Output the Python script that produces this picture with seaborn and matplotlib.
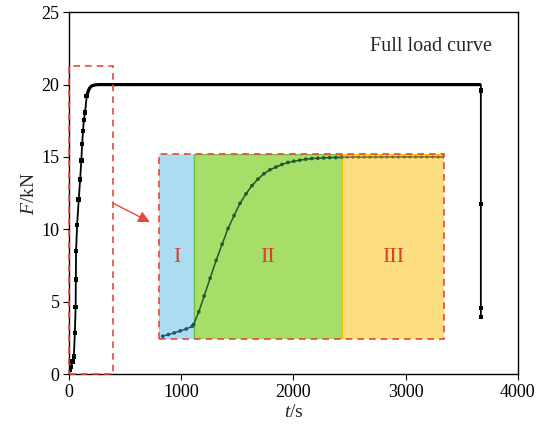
import matplotlib
matplotlib.use("Agg")
import matplotlib.pyplot as plt
import seaborn as sns
import pandas as pd
from matplotlib.patches import Rectangle

# ---------------- data ----------------
# full load curve (t in s, F in kN)
rise_t = [0, 9, 18, 30, 42, 51, 58, 60, 62, 71, 86, 98, 109, 116, 124, 131, 142, 157]
rise_F = [0.1, 0.28, 0.5, 0.85, 1.2, 2.85, 4.64, 6.55, 8.5, 10.3, 12.07, 13.45, 14.76, 15.9, 16.8, 17.56, 18.07, 19.2]
bend_t = [157, 170, 182, 200, 227, 260, 3670]
bend_F = [19.2, 19.55, 19.75, 19.9, 19.97, 20.0, 20.0]
drop_t = [3670, 3670, 3670, 3670]
drop_F = [19.6, 11.75, 4.56, 3.95]

# zoomed-in curve (inset), three stages
stage1_t = [4.7, 12.6, 21.0, 29.4, 37.8, 46.2, 48.1]
stage1_F = [0.36, 0.55, 0.73, 0.95, 1.16, 1.46, 1.64]
stage2_t = [48.1, 55.5, 63.0, 71.4, 79.8, 88.2, 96.6, 105.0, 113.4, 121.8, 130.2, 138.6, 147.0,
            155.4, 163.8, 172.2, 180.6, 189.0, 197.4, 205.8, 214.2, 222.6, 231.0, 239.4, 247.8, 256.2]
stage2_F = [1.64, 3.06, 4.80, 6.77, 8.73, 10.51, 12.26, 13.68, 15.03, 16.08, 16.99, 17.71, 18.30,
            18.73, 19.03, 19.32, 19.54, 19.68, 19.79, 19.90, 19.97, 20.01, 20.04, 20.08, 20.08, 20.12]
stage3_t = [256.2, 264, 272, 280, 288, 296, 304, 312, 320, 328, 336, 344, 352, 360, 368, 376, 384, 392, 399]
stage3_F = [20.12, 20.12, 20.13, 20.13, 20.13, 20.13, 20.14, 20.14, 20.14, 20.14, 20.14, 20.15,
            20.15, 20.15, 20.15, 20.15, 20.15, 20.15, 20.15]
stage_bounds = [0, 48.1, 256.2, 400]
stage_labels = ["I", "II", "III"]

x_ticks = [0, 1000, 2000, 3000, 4000]
y_ticks = [0, 5, 10, 15, 20, 25]

# ---------------- style ----------------
sns.set_style("ticks")
plt.rcParams["font.family"] = ["Liberation Serif", "DejaVu Serif"]
plt.rcParams["mathtext.fontset"] = "custom"
plt.rcParams["mathtext.it"] = "Liberation Serif:italic"
plt.rcParams["mathtext.rm"] = "Liberation Serif"

fig = plt.figure(figsize=(5.4, 4.36), dpi=100)
ax = fig.add_axes([0.128, 0.142, 0.831, 0.830])

main_t = rise_t + bend_t[1:] + drop_t
main_F = rise_F + bend_F[1:] + drop_F
df_main = pd.DataFrame({"t": main_t, "F": main_F})
sns.lineplot(data=df_main, x="t", y="F", sort=False, estimator=None, color="black", lw=1.3, ax=ax)
df_flat = pd.DataFrame({"t": bend_t, "F": bend_F})
sns.lineplot(data=df_flat, x="t", y="F", sort=False, estimator=None, color="black", lw=2.3,
             ax=ax, solid_capstyle="butt")
df_mk = pd.DataFrame({"t": rise_t[1:] + drop_t, "F": rise_F[1:] + drop_F})
sns.scatterplot(data=df_mk, x="t", y="F", marker="s", s=11, color="black", edgecolor="none", ax=ax, zorder=5)

ax.set_xlim(0, 4000)
ax.set_ylim(0, 25)
ax.set_xticks(x_ticks)
ax.set_yticks(y_ticks)
for s in ax.spines.values():
    s.set_visible(True)
    s.set_linewidth(1.0)
    s.set_color("black")
ax.tick_params(direction="out", length=4, width=0.8, labelsize=13, colors="black", pad=3)
ax.set_xlabel(r"$\it{t}$/s", fontsize=14, labelpad=2)
ax.set_ylabel(r"$\it{F}$/kN", fontsize=14, labelpad=2)

ax.text(3770, 22.6, "Full load curve", ha="right", va="center", fontsize=14.5)

red = "#e8473b"
ax.add_patch(Rectangle((0, 0), 390, 21.25, fill=False, edgecolor=red, lw=1.2,
                       ls=(0, (4, 3)), zorder=6, clip_on=False))
ax.annotate("", xy=(720, 10.5), xytext=(394, 11.8),
            arrowprops=dict(arrowstyle="-|>", color=red, lw=1.0, mutation_scale=17, shrinkA=0, shrinkB=0))

# ---------------- inset ----------------
x0, y0, x1, y1 = 804, 2.39, 3342, 15.22
ins = ax.inset_axes([x0, y0, x1 - x0, y1 - y0], transform=ax.transData)
ins.set_xlim(0, 400)
ins.set_ylim(0, 20.5)
ins.axis("off")
fills = ["#abdcf0", "#a6de69", "#fddf82"]
edges = ["#abdcf0", "#6cc03a", "#f7c100"]
for i in range(3):
    ins.add_patch(Rectangle((stage_bounds[i], 0), stage_bounds[i + 1] - stage_bounds[i], 20.5,
                            facecolor=fills[i], edgecolor=edges[i], lw=1.0, zorder=1))
    ins.text((stage_bounds[i] + stage_bounds[i + 1]) / 2, 9.1, stage_labels[i], color="#d9412f",
             fontsize=16, ha="center", va="center", zorder=4)

line_cols = ["#1f5678", "#1f5a2c", "#8b6a2a"]
for (tt, ff), c, ms in zip([(stage1_t, stage1_F), (stage2_t, stage2_F), (stage3_t, stage3_F)], line_cols, [7, 7, 5]):
    d = pd.DataFrame({"t": tt, "F": ff})
    sns.lineplot(data=d, x="t", y="F", sort=False, estimator=None, color=c, lw=1.1, ax=ins, zorder=3)
    sns.scatterplot(data=d, x="t", y="F", s=ms, color=c, edgecolor="none", ax=ins, zorder=3)
ins.set_xlabel("")
ins.set_ylabel("")
ins.set_xlim(0, 400)
ins.set_ylim(0, 20.5)
ins.add_patch(Rectangle((0, 0), 400, 20.5, fill=False, edgecolor=red, lw=1.2,
                        ls=(0, (4, 3)), zorder=6, clip_on=False))

fig.savefig("out.png", dpi=100)
